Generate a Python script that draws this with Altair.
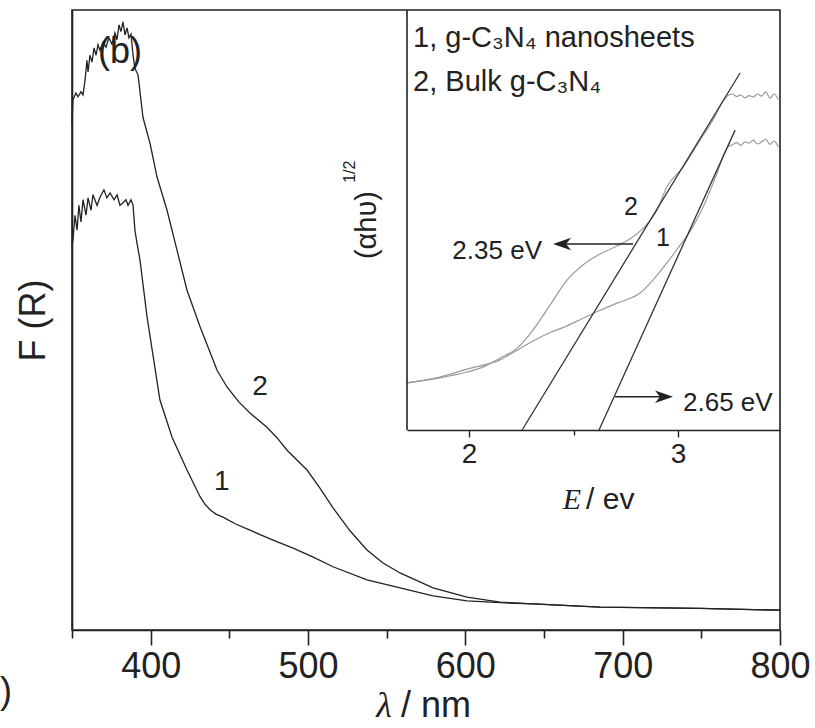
import altair as alt
import pandas as pd

# ---------------- main panel: F(R) vs wavelength ----------------
# curve 2: bulk g-C3N4
wl_bulk = [350.0, 350.6, 352.5, 353.8, 355.7, 357.0, 358.3, 359.5, 360.2, 361.4, 362.7, 364.0,
           365.3, 366.5, 367.8, 369.7, 371.6, 373.5, 375.4, 377.3, 378.6, 379.9, 381.1, 382.4,
           383.7, 385.0, 386.2, 387.5, 388.8, 390.0, 392.0, 395.1, 399.6, 404.0, 410.4, 416.7,
           423.1, 431.4, 442.2, 448.5, 456.0, 463.1, 473.9, 480.0, 486.7, 499.4, 507.6, 515.9,
           526.7, 537.5, 547.7, 558.5, 579.5, 601.1, 622.1, 643.0, 685.6, 749.2, 800.0]
fr_bulk = [0.815, 0.855, 0.866, 0.860, 0.868, 0.863, 0.887, 0.919, 0.900, 0.927, 0.916, 0.939,
           0.927, 0.944, 0.935, 0.948, 0.940, 0.955, 0.945, 0.963, 0.952, 0.976, 0.965, 0.981,
           0.960, 0.971, 0.955, 0.961, 0.927, 0.906, 0.895, 0.827, 0.785, 0.731, 0.677, 0.613,
           0.548, 0.489, 0.419, 0.392, 0.368, 0.350, 0.327, 0.311, 0.290, 0.258, 0.229, 0.197,
           0.160, 0.129, 0.108, 0.092, 0.068, 0.053, 0.045, 0.042, 0.037, 0.035, 0.032]

# curve 1: g-C3N4 nanosheets
wl_nano = [350.0, 350.6, 351.9, 353.2, 354.4, 355.7, 357.0, 358.9, 360.2, 362.1, 363.3, 365.9,
           367.8, 370.3, 372.2, 374.2, 376.7, 378.6, 380.5, 382.4, 384.3, 385.6, 387.5, 388.8,
           390.0, 391.3, 393.2, 397.7, 405.9, 413.6, 423.1, 431.4, 434.5, 437.7, 441.5, 446.0,
           454.0, 463.1, 477.8, 490.5, 503.0, 515.9, 537.5, 558.5, 579.5, 601.1, 622.1, 643.0,
           685.6, 749.2, 800.0]
fr_nano = [0.620, 0.629, 0.669, 0.645, 0.685, 0.658, 0.694, 0.669, 0.697, 0.677, 0.702, 0.685,
           0.698, 0.710, 0.697, 0.705, 0.694, 0.702, 0.685, 0.689, 0.694, 0.685, 0.694, 0.685,
           0.645, 0.624, 0.597, 0.505, 0.371, 0.311, 0.258, 0.215, 0.203, 0.194, 0.187, 0.182,
           0.171, 0.161, 0.145, 0.132, 0.118, 0.102, 0.081, 0.068, 0.055, 0.047, 0.044, 0.042,
           0.037, 0.035, 0.032]

x_ticks = [350, 400, 450, 500, 550, 600, 650, 700, 750, 800]

# main annotations (x in nm, y in F(R) units)
main_lab_text = ["(b)", "2", "1"]
main_lab_x = [380.5, 469.5, 445.2]
main_lab_y = [0.932, 0.392, 0.239]
main_lab_size = [36, 28, 28]

# ---------------- inset: Tauc plot ----------------
e_bulk = [1.703, 1.861, 1.990, 2.077, 2.148, 2.230, 2.306, 2.388, 2.469, 2.545, 2.627, 2.708,
          2.785, 2.852, 2.900, 2.947, 3.024, 3.105, 3.167, 3.211, 3.235, 3.26, 3.28, 3.30, 3.32,
          3.34, 3.36, 3.38, 3.40, 3.42, 3.44, 3.46, 3.48]
k_bulk = [0.112, 0.124, 0.138, 0.152, 0.171, 0.195, 0.238, 0.298, 0.357, 0.393, 0.419, 0.438,
          0.460, 0.490, 0.524, 0.579, 0.626, 0.690, 0.738, 0.780, 0.795, 0.800, 0.794, 0.798,
          0.791, 0.796, 0.793, 0.800, 0.795, 0.805, 0.790, 0.800, 0.787]
e_nano = [1.703, 1.861, 1.990, 2.148, 2.230, 2.306, 2.388, 2.469, 2.545, 2.627, 2.708, 2.818,
          2.880, 2.947, 3.010, 3.057, 3.120, 3.187, 3.225, 3.239, 3.26, 3.28, 3.30, 3.32, 3.34,
          3.36, 3.38, 3.40, 3.42, 3.44, 3.46, 3.48]
k_nano = [0.112, 0.126, 0.145, 0.167, 0.190, 0.212, 0.232, 0.248, 0.266, 0.285, 0.302, 0.326,
          0.357, 0.398, 0.440, 0.472, 0.531, 0.612, 0.662, 0.674, 0.679, 0.684, 0.678, 0.686,
          0.683, 0.690, 0.681, 0.686, 0.692, 0.680, 0.688, 0.674]

# tangent (extrapolation) lines
tan_id = ["t2", "t2", "t1", "t1"]
tan_e = [2.254, 3.297, 2.622, 3.273]
tan_k = [0.0, 0.850, 0.0, 0.714]

# arrows
arr_e_from = [2.785, 2.699]
arr_e_to = [2.445, 2.933]
arr_k = [0.443, 0.079]

inset_ticks = [2, 2.5, 3]

FONT = "Liberation Sans"
INK = "#222222"

# ---------------- build main ----------------
main_df = pd.concat([
    pd.DataFrame({"x": wl_bulk, "y": fr_bulk, "s": "bulk"}),
    pd.DataFrame({"x": wl_nano, "y": fr_nano, "s": "nano"}),
])

mx = alt.X("x:Q",
           scale=alt.Scale(domain=[350, 800], nice=False, zero=False),
           axis=alt.Axis(values=x_ticks, title=None,
                         labelExpr="datum.value % 100 === 0 ? datum.label : ''",
                         tickSize={"condition": {"test": "datum.value % 100 === 0", "value": 15}, "value": 8},
                         labelFontSize=36, labelPadding=4, labelFont=FONT, labelColor=INK,
                         domainColor=INK, domainWidth=1.6, tickColor=INK, tickWidth=1.6,
                         grid=False, labelFlush=False, labelOverlap=False))
my = alt.Y("y:Q",
           scale=alt.Scale(domain=[0, 1], nice=False, zero=False),
           axis=alt.Axis(title="F (R)", labels=False, ticks=False, grid=False,
                         domainColor=INK, domainWidth=1.6,
                         titleFont=FONT, titleFontSize=36, titleFontWeight="normal",
                         titleColor=INK, titlePadding=20))

main_lines = alt.Chart(main_df).mark_line(color=INK, strokeWidth=1.3).encode(
    x=mx, y=my, detail="s:N")

lab_df = pd.DataFrame({"x": main_lab_x, "y": main_lab_y, "t": main_lab_text, "fs": main_lab_size})
main_big = alt.Chart(lab_df[lab_df.fs == 36]).mark_text(font=FONT, fontSize=36, color=INK).encode(
    x=mx, y=my, text="t:N")
main_small = alt.Chart(lab_df[lab_df.fs == 28]).mark_text(font=FONT, fontSize=28, color=INK).encode(
    x=mx, y=my, text="t:N")

# x-axis title, italic lambda + "/ nm"
xt_lam = alt.Chart(pd.DataFrame({"x": [548.3], "y": [-0.123], "t": ["λ"]})).mark_text(
    font="Liberation Serif", fontStyle="italic", fontSize=36, color=INK, baseline="middle").encode(
    x=mx, y=my, text="t:N")
xt_nm = alt.Chart(pd.DataFrame({"x": [559.1], "y": [-0.123], "t": ["/ nm"]})).mark_text(
    font=FONT, fontSize=36, color=INK, align="left", baseline="middle").encode(
    x=mx, y=my, text="t:N")
# label of the neighbouring panel at the lower left edge
edge = alt.Chart(pd.DataFrame({"x": [304.3], "y": [-0.10], "t": [")"]})).mark_text(
    font=FONT, fontSize=36, color=INK, align="left", baseline="middle").encode(
    x=mx, y=my, text="t:N")

main = alt.layer(main_lines, main_big, main_small, xt_lam, xt_nm, edge)

# ---------------- build inset ----------------
ix = alt.X("e:Q",
           scale=alt.Scale(domain=[1.703, 3.488], range=[335, 708], nice=False, zero=False),
           axis=alt.Axis(orient="bottom", offset=-200, values=inset_ticks, title=None,
                         labelExpr="datum.value % 1 === 0 ? format(datum.value, 'd') : ''",
                         tickSize={"condition": {"test": "datum.value % 1 === 0", "value": 7}, "value": 5},
                         labelFontSize=28, labelPadding=3, labelFont=FONT, labelColor=INK,
                         domainColor=INK, domainWidth=1.6, tickColor=INK, tickWidth=1.4,
                         grid=False, labelFlush=False, labelOverlap=False))
iy = alt.Y("k:Q", scale=alt.Scale(domain=[0, 1], range=[420, 0], nice=False, zero=False), axis=None)

inset_df = pd.concat([
    pd.DataFrame({"e": e_bulk, "k": k_bulk, "s": "bulk"}),
    pd.DataFrame({"e": e_nano, "k": k_nano, "s": "nano"}),
])
inset_curves = alt.Chart(inset_df).mark_line(color="#9a9a9a", strokeWidth=1.2,
                                             interpolate="monotone").encode(
    x=ix, y=iy, detail="s:N")

tan_df = pd.DataFrame({"e": tan_e, "k": tan_k, "s": tan_id})
tangents = alt.Chart(tan_df).mark_line(color="#333333", strokeWidth=1.3).encode(
    x=ix, y=iy, detail="s:N")

border = alt.Chart(pd.DataFrame({"e": [1.703], "k": [0.0], "k2": [1.0]})).mark_rule(
    color=INK, strokeWidth=1.6).encode(x=ix, y=iy, y2="k2:Q")

arr_df = pd.DataFrame({"e": arr_e_from, "e2": arr_e_to, "k": arr_k})
arrow_lines = alt.Chart(arr_df).mark_rule(color=INK, strokeWidth=1.4).encode(
    x=ix, x2="e2:Q", y=iy)
head_left = alt.Chart(pd.DataFrame({"e": [arr_e_to[0]], "k": [arr_k[0]]})).mark_point(
    shape="M-1,0L1,-0.7L0.45,0L1,0.7Z", size=324, filled=True, color=INK, opacity=1).encode(x=ix, y=iy)
head_right = alt.Chart(pd.DataFrame({"e": [arr_e_to[1]], "k": [arr_k[1]]})).mark_point(
    shape="M1,0L-1,-0.7L-0.45,0L-1,0.7Z", size=324, filled=True, color=INK, opacity=1).encode(x=ix, y=iy)

legend_df = pd.DataFrame({"e": [1.732, 1.732], "k": [0.933, 0.829],
                          "t": ["1, g-C₃N₄ nanosheets", "2, Bulk g-C₃N₄"]})
legend = alt.Chart(legend_df).mark_text(font=FONT, fontSize=29, color=INK, align="left",
                                        baseline="middle").encode(x=ix, y=iy, text="t:N")

num_df = pd.DataFrame({"e": [2.775, 2.928], "k": [0.531, 0.457], "t": ["2", "1"]})
nums = alt.Chart(num_df).mark_text(font=FONT, fontSize=25, color=INK, baseline="middle").encode(
    x=ix, y=iy, text="t:N")

ev_r = alt.Chart(pd.DataFrame({"e": [2.349], "k": [0.426], "t": ["2.35 eV"]})).mark_text(
    font=FONT, fontSize=26, color=INK, align="right", baseline="middle").encode(x=ix, y=iy, text="t:N")
ev_l = alt.Chart(pd.DataFrame({"e": [3.024], "k": [0.064], "t": ["2.65 eV"]})).mark_text(
    font=FONT, fontSize=26, color=INK, align="left", baseline="middle").encode(x=ix, y=iy, text="t:N")

et_E = alt.Chart(pd.DataFrame({"e": [2.492], "k": [-0.167], "t": ["E"]})).mark_text(
    font="Liberation Serif", fontStyle="italic", fontSize=30, color=INK, baseline="middle").encode(
    x=ix, y=iy, text="t:N")
et_ev = alt.Chart(pd.DataFrame({"e": [2.560], "k": [-0.167], "t": ["/ ev"]})).mark_text(
    font=FONT, fontSize=30, color=INK, align="left", baseline="middle").encode(x=ix, y=iy, text="t:N")

yt_main = alt.Chart(pd.DataFrame({"e": [1.512], "k": [0.488], "t": ["(αhυ)"]})).mark_text(
    font=FONT, fontSize=29, color=INK, angle=270, baseline="middle").encode(x=ix, y=iy, text="t:N")
yt_sup = alt.Chart(pd.DataFrame({"e": [1.432], "k": [0.615], "t": ["1/2"]})).mark_text(
    font=FONT, fontSize=16, color=INK, angle=270, baseline="middle").encode(x=ix, y=iy, text="t:N")

inset = alt.layer(inset_curves, tangents, border, arrow_lines, head_left, head_right,
                  legend, nums, ev_r, ev_l, et_E, et_ev, yt_main, yt_sup)

chart = alt.layer(main, inset).resolve_scale(x="independent", y="independent").properties(
    width=708, height=620,
    autosize=alt.AutoSizeParams(type="none"),
    padding={"left": 72, "top": 10, "right": 35, "bottom": 98},
    background="white",
).configure_view(stroke=INK, strokeWidth=1.6)

chart.save("out.html", embed_options={"renderer": "svg", "actions": False})
